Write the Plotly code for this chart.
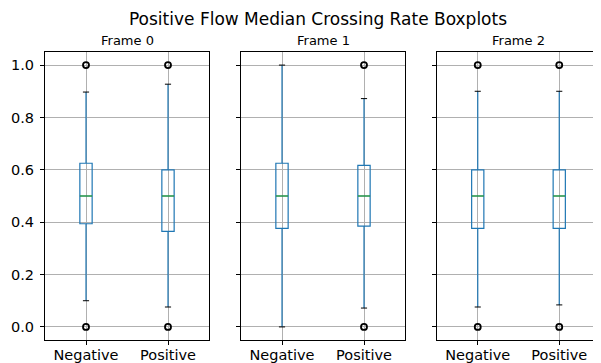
import plotly.graph_objects as go

frames = ["Frame 0", "Frame 1", "Frame 2"]
categories = ["Negative", "Positive"]
positions = [1, 2]

q1 = [[0.394, 0.365], [0.376, 0.385], [0.376, 0.376]]
median = [[0.5, 0.5], [0.5, 0.5], [0.5, 0.5]]
q3 = [[0.625, 0.600], [0.625, 0.617], [0.600, 0.600]]
lower_whisker = [[0.100, 0.076], [0.000, 0.072], [0.076, 0.084]]
upper_whisker = [[0.897, 0.927], [1.000, 0.872], [0.900, 0.900]]
outliers = [[[0.0, 1.0], [0.0, 1.0]], [[], [0.0, 1.0]], [[0.0, 1.0], [0.0, 1.0]]]

y_ticks = [0.0, 0.2, 0.4, 0.6, 0.8, 1.0]

# page has an 8px body margin: figure drawn from (8, 8) in the window
OFF = 8
W, H = 601 - OFF, 363 - OFF
panels_px = [(45, 209), (241, 405), (437, 600)]   # window pixels
top_px, bottom_px = 52, 340

BOX_W = 0.15
CAP_W = 0.075
BLUE = "#1f77b4"
GREEN = "#2ca02c"
FONT = "DejaVu Sans"


def fx(px):
    return (px - OFF) / W


def fy(py):
    return (H - (py - OFF)) / H


fig = go.Figure()
layout = {}
for i, name in enumerate(frames):
    ax = "" if i == 0 else str(i + 1)
    xref, yref = "x" + ax, "y" + ax
    fig.add_trace(go.Box(
        x=positions, q1=q1[i], median=median[i], q3=q3[i],
        lowerfence=lower_whisker[i], upperfence=upper_whisker[i],
        width=BOX_W, whiskerwidth=0, fillcolor="rgba(0,0,0,0)",
        line=dict(color=BLUE, width=1.2), boxpoints=False,
        xaxis=xref, yaxis=yref, showlegend=False, hoverinfo="skip"))
    mx, my, cx, cy, ox, oy = [], [], [], [], [], []
    for j, p in enumerate(positions):
        mx += [p - BOX_W / 2, p + BOX_W / 2, None]
        my += [median[i][j], median[i][j], None]
        for v in (lower_whisker[i][j], upper_whisker[i][j]):
            cx += [p - CAP_W / 2, p + CAP_W / 2, None]
            cy += [v, v, None]
        for v in outliers[i][j]:
            ox.append(p)
            oy.append(v)
    fig.add_trace(go.Scatter(x=mx, y=my, mode="lines", line=dict(color=GREEN, width=1.2),
                             xaxis=xref, yaxis=yref, showlegend=False, hoverinfo="skip"))
    fig.add_trace(go.Scatter(x=cx, y=cy, mode="lines", line=dict(color="black", width=1),
                             xaxis=xref, yaxis=yref, showlegend=False, hoverinfo="skip"))
    fig.add_trace(go.Scatter(x=ox, y=oy, mode="markers",
                             marker=dict(symbol="circle-open", size=6, color="black",
                                         line=dict(width=1.8, color="black")),
                             xaxis=xref, yaxis=yref, showlegend=False, hoverinfo="skip"))
    l, r = panels_px[i]
    layout["xaxis" + ax] = dict(
        domain=[fx(l), min(fx(r), 1.0)], range=[0.5, 2.5], tickvals=positions,
        ticktext=categories, ticklabelstandoff=-2,
        ticks="outside", ticklen=4, tickcolor="black", showgrid=True,
        gridcolor="#b0b0b0", gridwidth=1, showline=True, mirror=True,
        linecolor="black", linewidth=1, zeroline=False, anchor=yref, automargin=False,
        tickfont=dict(family=FONT, size=14.5, color="black"), fixedrange=True)
    layout["yaxis" + ax] = dict(
        domain=[fy(bottom_px), fy(top_px)], range=[-0.05, 1.05], tickvals=y_ticks,
        ticktext=[f"{v:.1f}" for v in y_ticks], showticklabels=(i == 0),
        ticklabelstandoff=3,
        ticks="outside", ticklen=4, tickcolor="black", showgrid=True,
        gridcolor="#b0b0b0", gridwidth=1, showline=True, mirror=True,
        linecolor="black", linewidth=1, zeroline=False, anchor=xref, automargin=False,
        tickfont=dict(family=FONT, size=14.5, color="black"), fixedrange=True)

annotations = []
for i, name in enumerate(frames):
    l, r = panels_px[i]
    annotations.append(dict(
        text=name, x=(fx(l) + fx(r)) / 2, y=fy(top_px - 2), xref="paper", yref="paper",
        xanchor="center", yanchor="bottom", showarrow=False,
        font=dict(family=FONT, size=13, color="black")))

fig.update_layout(
    width=W, height=H, margin=dict(l=0, r=0, t=0, b=0),
    paper_bgcolor="white", plot_bgcolor="white",
    title=dict(text="Positive Flow Median Crossing Rate Boxplots", x=fx(318),
               xanchor="center", xref="paper", y=fy(19), yanchor="middle",
               font=dict(family=FONT, size=17, color="black")),
    annotations=annotations, boxmode="overlay",
    **layout)

fig.write_html("out.html")
